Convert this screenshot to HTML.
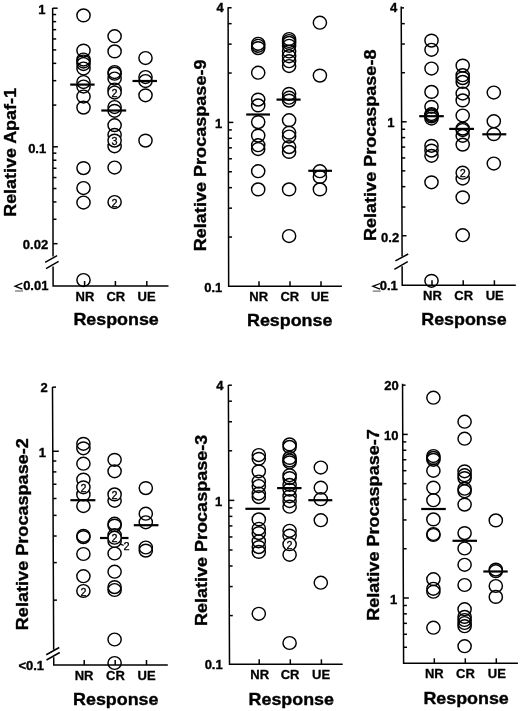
<!DOCTYPE html>
<html><head><meta charset="utf-8"><style>
html,body{margin:0;padding:0;background:#fff;}
body{width:520px;height:711px;overflow:hidden;}
svg{display:block;filter:grayscale(1);}
.ax line,.ax path{stroke:#000;stroke-width:1.5;fill:none;}
.ax .thin{stroke-width:1.3;}
.ax .ul{stroke-width:0.8;stroke:#222;}
.c ellipse{stroke:#000;stroke-width:1.45;fill:none;}
.c ellipse.w{fill:#fff;}
.m line{stroke:#000;stroke-width:2.2;}
text{font-family:"Liberation Sans",sans-serif;fill:#000;}
.tl{font-weight:bold;font-size:13px;stroke:#000;stroke-width:0.35;}
.xl{font-weight:bold;font-size:13px;text-anchor:middle;stroke:#000;stroke-width:0.3;}
.rs{font-weight:bold;font-size:16.3px;text-anchor:middle;stroke:#000;stroke-width:0.35;}
.yl{font-weight:bold;font-size:17.3px;text-anchor:middle;stroke:#000;stroke-width:0.35;}
.n{font-size:10.8px;text-anchor:middle;fill:#000;stroke:#000;stroke-width:0.3;}
.n2{font-size:11px;text-anchor:middle;fill:#000;stroke:#000;stroke-width:0.25;}
</style></head><body>
<svg width="520" height="711" viewBox="0 0 520 711">
<g class="ax">
<path d="M52.65 8.1L53.05 256.5M53.07 266.5L53.10 286.0L168.5 286.0"/>
<line x1="45.1" y1="262.4" x2="57.1" y2="255.7"/>
<line x1="46" y1="268.7" x2="58.6" y2="261.4"/>
<line x1="84.6" y1="286.0" x2="84.6" y2="281.0"/>
<line x1="115.4" y1="286.0" x2="115.4" y2="281.0"/>
<line x1="146.8" y1="286.0" x2="146.8" y2="281.0"/>
<line x1="52.65" y1="8.20" x2="57.65" y2="8.20"/>
<line x1="52.66" y1="14.54" x2="56.16" y2="14.54"/>
<line x1="52.67" y1="21.63" x2="56.17" y2="21.63"/>
<line x1="52.68" y1="29.67" x2="56.18" y2="29.67"/>
<line x1="52.70" y1="38.95" x2="56.20" y2="38.95"/>
<line x1="52.72" y1="49.92" x2="56.22" y2="49.92"/>
<line x1="52.74" y1="63.35" x2="56.24" y2="63.35"/>
<line x1="52.77" y1="80.67" x2="56.27" y2="80.67"/>
<line x1="52.81" y1="105.08" x2="56.31" y2="105.08"/>
<line x1="52.87" y1="146.80" x2="57.87" y2="146.80"/>
<line x1="52.88" y1="153.14" x2="56.38" y2="153.14"/>
<line x1="52.90" y1="160.23" x2="56.40" y2="160.23"/>
<line x1="52.91" y1="168.27" x2="56.41" y2="168.27"/>
<line x1="52.92" y1="177.55" x2="56.42" y2="177.55"/>
<line x1="52.94" y1="188.52" x2="56.44" y2="188.52"/>
<line x1="52.96" y1="201.95" x2="56.46" y2="201.95"/>
<line x1="52.99" y1="219.27" x2="56.49" y2="219.27"/>
<line x1="53.03" y1="243.68" x2="57.53" y2="243.68"/>
<path class="thin" d="M22.4 283.2L15 286.20L22.4 289.2"/>
<line class="ul" x1="15" y1="291" x2="23.0" y2="291"/>
<path d="M228.10 7.3L228.65 286.3L341.9 286.3"/>
<line x1="259" y1="286.3" x2="259" y2="281.3"/>
<line x1="290" y1="286.3" x2="290" y2="281.3"/>
<line x1="321" y1="286.3" x2="321" y2="281.3"/>
<line x1="228.10" y1="7.77" x2="231.60" y2="7.77"/>
<line x1="228.13" y1="23.66" x2="231.63" y2="23.66"/>
<line x1="228.17" y1="44.15" x2="231.67" y2="44.15"/>
<line x1="228.23" y1="73.03" x2="231.73" y2="73.03"/>
<line x1="228.33" y1="122.40" x2="233.33" y2="122.40"/>
<line x1="228.34" y1="129.90" x2="231.84" y2="129.90"/>
<line x1="228.36" y1="138.29" x2="231.86" y2="138.29"/>
<line x1="228.38" y1="147.80" x2="231.88" y2="147.80"/>
<line x1="228.40" y1="158.78" x2="231.90" y2="158.78"/>
<line x1="228.42" y1="171.77" x2="231.92" y2="171.77"/>
<line x1="228.46" y1="187.66" x2="231.96" y2="187.66"/>
<line x1="228.50" y1="208.15" x2="232.00" y2="208.15"/>
<line x1="228.55" y1="237.03" x2="232.05" y2="237.03"/>
<path d="M401.20 6.6L402.10 256.5M402.13 266.3L402.20 285.3L515.8 285.3"/>
<line x1="395.4" y1="260.9" x2="408.2" y2="254"/>
<line x1="394.4" y1="269.3" x2="407.7" y2="261.6"/>
<line x1="432" y1="285.3" x2="432" y2="280.3"/>
<line x1="463.2" y1="285.3" x2="463.2" y2="280.3"/>
<line x1="494.4" y1="285.3" x2="494.4" y2="280.3"/>
<line x1="401.20" y1="7.87" x2="404.00" y2="7.87"/>
<line x1="401.26" y1="23.66" x2="404.76" y2="23.66"/>
<line x1="401.33" y1="44.03" x2="404.83" y2="44.03"/>
<line x1="401.44" y1="72.73" x2="404.94" y2="72.73"/>
<line x1="401.61" y1="121.80" x2="406.61" y2="121.80"/>
<line x1="401.64" y1="129.26" x2="405.14" y2="129.26"/>
<line x1="401.67" y1="137.60" x2="405.17" y2="137.60"/>
<line x1="401.70" y1="147.05" x2="405.20" y2="147.05"/>
<line x1="401.74" y1="157.96" x2="405.24" y2="157.96"/>
<line x1="401.79" y1="170.87" x2="405.29" y2="170.87"/>
<line x1="401.85" y1="186.66" x2="405.35" y2="186.66"/>
<line x1="401.92" y1="207.03" x2="405.42" y2="207.03"/>
<line x1="402.02" y1="235.73" x2="406.52" y2="235.73"/>
<path class="thin" d="M380.1 283.5L372.8 286.35L380.1 289.2"/>
<line class="ul" x1="372.8" y1="291.1" x2="380.70000000000005" y2="291.1"/>
<path d="M52.50 386.9L53.68 649.75M53.72 657.25L53.75 665L167.8 665.0"/>
<line x1="46.25" y1="654.75" x2="59.25" y2="647.5"/>
<line x1="46.5" y1="660" x2="59.75" y2="652.5"/>
<line x1="84.2" y1="665" x2="84.2" y2="660"/>
<line x1="115.2" y1="665" x2="115.2" y2="660"/>
<line x1="146.5" y1="665" x2="146.5" y2="660"/>
<line x1="52.50" y1="387.13" x2="56.00" y2="387.13"/>
<line x1="52.79" y1="451.25" x2="58.79" y2="451.25"/>
<line x1="52.83" y1="461.00" x2="56.33" y2="461.00"/>
<line x1="52.88" y1="471.89" x2="56.38" y2="471.89"/>
<line x1="52.94" y1="484.24" x2="56.44" y2="484.24"/>
<line x1="53.00" y1="498.50" x2="56.50" y2="498.50"/>
<line x1="53.08" y1="515.37" x2="56.58" y2="515.37"/>
<line x1="53.17" y1="536.01" x2="56.67" y2="536.01"/>
<line x1="53.29" y1="562.62" x2="56.79" y2="562.62"/>
<line x1="53.46" y1="600.13" x2="56.96" y2="600.13"/>
<line class="thin" x1="120.0" y1="544.0" x2="123.6" y2="545.4"/>
<path d="M228.35 385.1L229.50 664.3L342.7 664.3"/>
<line x1="259.2" y1="664.3" x2="259.2" y2="659.3"/>
<line x1="290.3" y1="664.3" x2="290.3" y2="659.3"/>
<line x1="321.4" y1="664.3" x2="321.4" y2="659.3"/>
<line x1="228.35" y1="385.21" x2="231.85" y2="385.21"/>
<line x1="228.42" y1="401.18" x2="231.92" y2="401.18"/>
<line x1="228.50" y1="421.77" x2="232.00" y2="421.77"/>
<line x1="228.62" y1="450.79" x2="232.12" y2="450.79"/>
<line x1="228.82" y1="500.40" x2="234.32" y2="500.40"/>
<line x1="228.86" y1="507.94" x2="232.36" y2="507.94"/>
<line x1="228.89" y1="516.37" x2="232.39" y2="516.37"/>
<line x1="228.93" y1="525.93" x2="232.43" y2="525.93"/>
<line x1="228.98" y1="536.96" x2="232.48" y2="536.96"/>
<line x1="229.03" y1="550.01" x2="232.53" y2="550.01"/>
<line x1="229.10" y1="565.98" x2="232.60" y2="565.98"/>
<line x1="229.18" y1="586.57" x2="232.68" y2="586.57"/>
<line x1="229.30" y1="615.59" x2="232.80" y2="615.59"/>
<path d="M402.55 383.75L403.60 663.3L517.9 663.3"/>
<line x1="434.3" y1="663.3" x2="434.3" y2="658.3"/>
<line x1="465.3" y1="663.3" x2="465.3" y2="658.3"/>
<line x1="496.3" y1="663.3" x2="496.3" y2="658.3"/>
<line x1="402.56" y1="385.15" x2="405.56" y2="385.15"/>
<line x1="402.74" y1="434.40" x2="407.74" y2="434.40"/>
<line x1="402.77" y1="441.89" x2="406.27" y2="441.89"/>
<line x1="402.80" y1="450.25" x2="406.30" y2="450.25"/>
<line x1="402.84" y1="459.74" x2="406.34" y2="459.74"/>
<line x1="402.88" y1="470.69" x2="406.38" y2="470.69"/>
<line x1="402.93" y1="483.65" x2="406.43" y2="483.65"/>
<line x1="402.98" y1="499.50" x2="406.48" y2="499.50"/>
<line x1="403.06" y1="519.94" x2="406.56" y2="519.94"/>
<line x1="403.17" y1="548.75" x2="406.67" y2="548.75"/>
<line x1="403.35" y1="598.00" x2="408.85" y2="598.00"/>
<line x1="403.38" y1="605.49" x2="406.88" y2="605.49"/>
<line x1="403.41" y1="613.85" x2="406.91" y2="613.85"/>
<line x1="403.45" y1="623.34" x2="406.95" y2="623.34"/>
<line x1="403.49" y1="634.29" x2="406.99" y2="634.29"/>
<line x1="403.54" y1="647.25" x2="407.04" y2="647.25"/>
</g>
<g class="c">
<ellipse cx="83.5" cy="15.4" rx="6.6" ry="6.4"/>
<ellipse cx="83.5" cy="50.6" rx="6.6" ry="6.4"/>
<ellipse cx="83.5" cy="59.5" rx="6.6" ry="6.4"/>
<ellipse cx="83.5" cy="61.5" rx="6.6" ry="6.4"/>
<ellipse cx="83.5" cy="64" rx="6.6" ry="6.4"/>
<ellipse cx="83.5" cy="68.5" rx="6.6" ry="6.4"/>
<ellipse cx="83.5" cy="82" rx="6.6" ry="6.4"/>
<ellipse cx="83.5" cy="86.5" rx="6.6" ry="6.4"/>
<ellipse cx="83.5" cy="96.5" rx="6.6" ry="6.4"/>
<ellipse cx="83.5" cy="107.6" rx="6.6" ry="6.4"/>
<ellipse cx="83.5" cy="168.1" rx="6.6" ry="6.4"/>
<ellipse cx="83.5" cy="188" rx="6.6" ry="6.4"/>
<ellipse cx="83.5" cy="202.5" rx="6.6" ry="6.4"/>
<ellipse cx="83.5" cy="280" rx="6.6" ry="6.4"/>
<ellipse cx="114.6" cy="36.2" rx="6.6" ry="6.4"/>
<ellipse cx="114.6" cy="51.4" rx="6.6" ry="6.4"/>
<ellipse cx="114.6" cy="72" rx="6.6" ry="6.4"/>
<ellipse cx="114.6" cy="73.7" rx="6.6" ry="6.4"/>
<ellipse cx="114.6" cy="78.5" rx="6.6" ry="6.4"/>
<ellipse cx="114.6" cy="89.5" rx="6.6" ry="6.4"/>
<ellipse cx="114.6" cy="107" rx="6.6" ry="6.4"/>
<ellipse cx="114.6" cy="110.8" rx="6.6" ry="6.4"/>
<ellipse cx="114.6" cy="125.2" rx="6.6" ry="6.4"/>
<ellipse cx="114.6" cy="134.8" rx="6.6" ry="6.4"/>
<ellipse cx="114.6" cy="146.3" rx="6.6" ry="6.4"/>
<ellipse cx="114.6" cy="167.5" rx="6.6" ry="6.4"/>
<ellipse cx="145.5" cy="58" rx="6.6" ry="6.4"/>
<ellipse cx="145.5" cy="77" rx="6.6" ry="6.4"/>
<ellipse cx="145.5" cy="81" rx="6.6" ry="6.4"/>
<ellipse cx="145.5" cy="95.3" rx="6.6" ry="6.4"/>
<ellipse cx="145.5" cy="140.6" rx="6.6" ry="6.4"/>
<ellipse cx="258.2" cy="43.8" rx="6.6" ry="6.4"/>
<ellipse cx="258.2" cy="45.8" rx="6.6" ry="6.4"/>
<ellipse cx="258.2" cy="48.1" rx="6.6" ry="6.4"/>
<ellipse cx="258.2" cy="72.7" rx="6.6" ry="6.4"/>
<ellipse cx="258.2" cy="99.6" rx="6.6" ry="6.4"/>
<ellipse cx="258.2" cy="105.4" rx="6.6" ry="6.4"/>
<ellipse cx="258.2" cy="122.1" rx="6.6" ry="6.4"/>
<ellipse cx="258.2" cy="135.6" rx="6.6" ry="6.4"/>
<ellipse cx="258.2" cy="145.2" rx="6.6" ry="6.4"/>
<ellipse cx="258.2" cy="149" rx="6.6" ry="6.4"/>
<ellipse cx="258.2" cy="171.2" rx="6.6" ry="6.4"/>
<ellipse cx="258.2" cy="189.4" rx="6.6" ry="6.4"/>
<ellipse cx="289.1" cy="39" rx="6.6" ry="6.4"/>
<ellipse cx="289.1" cy="41" rx="6.6" ry="6.4"/>
<ellipse cx="289.1" cy="42.9" rx="6.6" ry="6.4"/>
<ellipse cx="289.1" cy="45.8" rx="6.6" ry="6.4"/>
<ellipse cx="289.1" cy="51.5" rx="6.6" ry="6.4"/>
<ellipse cx="289.1" cy="56.3" rx="6.6" ry="6.4"/>
<ellipse cx="289.1" cy="61.2" rx="6.6" ry="6.4"/>
<ellipse cx="289.1" cy="66" rx="6.6" ry="6.4"/>
<ellipse cx="289.1" cy="93.8" rx="6.6" ry="6.4"/>
<ellipse cx="289.1" cy="97.7" rx="6.6" ry="6.4"/>
<ellipse cx="289.1" cy="100.6" rx="6.6" ry="6.4"/>
<ellipse cx="289.1" cy="120.2" rx="6.6" ry="6.4"/>
<ellipse cx="289.1" cy="132.7" rx="6.6" ry="6.4"/>
<ellipse cx="289.1" cy="136.5" rx="6.6" ry="6.4"/>
<ellipse cx="289.1" cy="147.1" rx="6.6" ry="6.4"/>
<ellipse cx="289.1" cy="151.9" rx="6.6" ry="6.4"/>
<ellipse cx="289.1" cy="189.4" rx="6.6" ry="6.4"/>
<ellipse cx="289.1" cy="236" rx="6.6" ry="6.4"/>
<ellipse cx="319.9" cy="22.7" rx="6.6" ry="6.4"/>
<ellipse cx="319.9" cy="75.6" rx="6.6" ry="6.4"/>
<ellipse cx="319.9" cy="171.2" rx="6.6" ry="6.4"/>
<ellipse cx="319.9" cy="176.9" rx="6.6" ry="6.4"/>
<ellipse cx="319.9" cy="189.4" rx="6.6" ry="6.4"/>
<ellipse cx="431.5" cy="40.6" rx="6.6" ry="6.4"/>
<ellipse cx="431.5" cy="49.8" rx="6.6" ry="6.4"/>
<ellipse cx="431.5" cy="68.5" rx="6.6" ry="6.4"/>
<ellipse cx="431.5" cy="91.9" rx="6.6" ry="6.4"/>
<ellipse cx="431.5" cy="106.8" rx="6.6" ry="6.4"/>
<ellipse cx="431.5" cy="114" rx="6.6" ry="6.4"/>
<ellipse cx="431.5" cy="115.2" rx="6.6" ry="6.4"/>
<ellipse cx="431.5" cy="116.4" rx="6.6" ry="6.4"/>
<ellipse cx="431.5" cy="118.5" rx="6.6" ry="6.4"/>
<ellipse cx="431.5" cy="145.8" rx="6.6" ry="6.4"/>
<ellipse cx="431.5" cy="150.6" rx="6.6" ry="6.4"/>
<ellipse cx="431.5" cy="155.8" rx="6.6" ry="6.4"/>
<ellipse cx="431.5" cy="182.3" rx="6.6" ry="6.4"/>
<ellipse cx="431.5" cy="280.8" rx="6.6" ry="6.4"/>
<ellipse cx="462.7" cy="65.6" rx="6.6" ry="6.4"/>
<ellipse cx="462.7" cy="75.2" rx="6.6" ry="6.4"/>
<ellipse cx="462.7" cy="78.1" rx="6.6" ry="6.4"/>
<ellipse cx="462.7" cy="81.9" rx="6.6" ry="6.4"/>
<ellipse cx="462.7" cy="93.5" rx="6.6" ry="6.4"/>
<ellipse cx="462.7" cy="100.4" rx="6.6" ry="6.4"/>
<ellipse cx="462.7" cy="115.5" rx="6.6" ry="6.4"/>
<ellipse cx="462.7" cy="128.6" rx="6.6" ry="6.4"/>
<ellipse cx="462.7" cy="130" rx="6.6" ry="6.4"/>
<ellipse cx="462.7" cy="135.8" rx="6.6" ry="6.4"/>
<ellipse cx="462.7" cy="144.6" rx="6.6" ry="6.4"/>
<ellipse cx="462.7" cy="178.5" rx="6.6" ry="6.4"/>
<ellipse cx="462.7" cy="197.3" rx="6.6" ry="6.4"/>
<ellipse cx="462.7" cy="235.2" rx="6.6" ry="6.4"/>
<ellipse cx="493.8" cy="92.5" rx="6.6" ry="6.4"/>
<ellipse cx="493.8" cy="121.2" rx="6.6" ry="6.4"/>
<ellipse cx="493.8" cy="134.2" rx="6.6" ry="6.4"/>
<ellipse cx="493.8" cy="163.5" rx="6.6" ry="6.4"/>
<ellipse cx="83.4" cy="443.8" rx="6.6" ry="6.4"/>
<ellipse cx="83.4" cy="448.3" rx="6.6" ry="6.4"/>
<ellipse cx="83.4" cy="463.7" rx="6.6" ry="6.4"/>
<ellipse cx="83.4" cy="479.6" rx="6.6" ry="6.4"/>
<ellipse cx="83.4" cy="494.4" rx="6.6" ry="6.4"/>
<ellipse cx="83.4" cy="506" rx="6.6" ry="6.4"/>
<ellipse cx="83.4" cy="535.8" rx="6.6" ry="6.4"/>
<ellipse cx="83.4" cy="537.1" rx="6.6" ry="6.4"/>
<ellipse cx="83.4" cy="554" rx="6.6" ry="6.4"/>
<ellipse cx="83.4" cy="576.2" rx="6.6" ry="6.4"/>
<ellipse cx="114.6" cy="459.8" rx="6.6" ry="6.4"/>
<ellipse cx="114.6" cy="471.3" rx="6.6" ry="6.4"/>
<ellipse cx="114.6" cy="500.8" rx="6.6" ry="6.4"/>
<ellipse cx="114.6" cy="523.7" rx="6.6" ry="6.4"/>
<ellipse cx="114.6" cy="525.6" rx="6.6" ry="6.4"/>
<ellipse cx="114.6" cy="535.2" rx="6.6" ry="6.4"/>
<ellipse cx="114.6" cy="541" rx="6.6" ry="6.4"/>
<ellipse cx="114.6" cy="553.5" rx="6.6" ry="6.4"/>
<ellipse cx="114.6" cy="571.7" rx="6.6" ry="6.4"/>
<ellipse cx="114.6" cy="587.1" rx="6.6" ry="6.4"/>
<ellipse cx="114.6" cy="590" rx="6.6" ry="6.4"/>
<ellipse cx="114.6" cy="639.5" rx="6.6" ry="6.4"/>
<ellipse cx="114.6" cy="663" rx="6.6" ry="6.4"/>
<ellipse cx="145.8" cy="488.1" rx="6.6" ry="6.4"/>
<ellipse cx="145.8" cy="513.7" rx="6.6" ry="6.4"/>
<ellipse cx="145.8" cy="522.3" rx="6.6" ry="6.4"/>
<ellipse cx="145.8" cy="547.5" rx="6.6" ry="6.4"/>
<ellipse cx="145.8" cy="550.6" rx="6.6" ry="6.4"/>
<ellipse cx="258.8" cy="455" rx="6.6" ry="6.4"/>
<ellipse cx="258.8" cy="458.8" rx="6.6" ry="6.4"/>
<ellipse cx="258.8" cy="471.3" rx="6.6" ry="6.4"/>
<ellipse cx="258.8" cy="481.5" rx="6.6" ry="6.4"/>
<ellipse cx="258.8" cy="486" rx="6.6" ry="6.4"/>
<ellipse cx="258.8" cy="493.5" rx="6.6" ry="6.4"/>
<ellipse cx="258.8" cy="497" rx="6.6" ry="6.4"/>
<ellipse cx="258.8" cy="519.4" rx="6.6" ry="6.4"/>
<ellipse cx="258.8" cy="528.8" rx="6.6" ry="6.4"/>
<ellipse cx="258.8" cy="533.1" rx="6.6" ry="6.4"/>
<ellipse cx="258.8" cy="541.3" rx="6.6" ry="6.4"/>
<ellipse cx="258.8" cy="547.1" rx="6.6" ry="6.4"/>
<ellipse cx="258.8" cy="551.9" rx="6.6" ry="6.4"/>
<ellipse cx="258.8" cy="613.8" rx="6.6" ry="6.4"/>
<ellipse cx="289.6" cy="444.4" rx="6.6" ry="6.4"/>
<ellipse cx="289.6" cy="446.9" rx="6.6" ry="6.4"/>
<ellipse cx="289.6" cy="457.9" rx="6.6" ry="6.4"/>
<ellipse cx="289.6" cy="460.4" rx="6.6" ry="6.4"/>
<ellipse cx="289.6" cy="462.3" rx="6.6" ry="6.4"/>
<ellipse cx="289.6" cy="475.2" rx="6.6" ry="6.4"/>
<ellipse cx="289.6" cy="478.1" rx="6.6" ry="6.4"/>
<ellipse cx="289.6" cy="484.8" rx="6.6" ry="6.4"/>
<ellipse cx="289.6" cy="489.6" rx="6.6" ry="6.4"/>
<ellipse cx="289.6" cy="496.3" rx="6.6" ry="6.4"/>
<ellipse cx="289.6" cy="501" rx="6.6" ry="6.4"/>
<ellipse cx="289.6" cy="506.7" rx="6.6" ry="6.4"/>
<ellipse cx="289.6" cy="530.8" rx="6.6" ry="6.4"/>
<ellipse cx="289.6" cy="535.6" rx="6.6" ry="6.4"/>
<ellipse cx="289.6" cy="554.8" rx="6.6" ry="6.4"/>
<ellipse cx="289.6" cy="643" rx="6.6" ry="6.4"/>
<ellipse cx="320.8" cy="467.5" rx="6.6" ry="6.4"/>
<ellipse cx="320.8" cy="487.7" rx="6.6" ry="6.4"/>
<ellipse cx="320.8" cy="499.2" rx="6.6" ry="6.4"/>
<ellipse cx="320.8" cy="520.2" rx="6.6" ry="6.4"/>
<ellipse cx="320.8" cy="582.7" rx="6.6" ry="6.4"/>
<ellipse cx="433.4" cy="397.7" rx="6.6" ry="6.4"/>
<ellipse cx="433.4" cy="456" rx="6.6" ry="6.4"/>
<ellipse cx="433.4" cy="457.9" rx="6.6" ry="6.4"/>
<ellipse cx="433.4" cy="459.8" rx="6.6" ry="6.4"/>
<ellipse cx="433.4" cy="470.8" rx="6.6" ry="6.4"/>
<ellipse cx="433.4" cy="487.7" rx="6.6" ry="6.4"/>
<ellipse cx="433.4" cy="500.2" rx="6.6" ry="6.4"/>
<ellipse cx="433.4" cy="519.4" rx="6.6" ry="6.4"/>
<ellipse cx="433.4" cy="534" rx="6.6" ry="6.4"/>
<ellipse cx="433.4" cy="535" rx="6.6" ry="6.4"/>
<ellipse cx="433.4" cy="579.2" rx="6.6" ry="6.4"/>
<ellipse cx="433.4" cy="588.8" rx="6.6" ry="6.4"/>
<ellipse cx="433.4" cy="591.7" rx="6.6" ry="6.4"/>
<ellipse cx="433.4" cy="627.7" rx="6.6" ry="6.4"/>
<ellipse cx="464.6" cy="421.7" rx="6.6" ry="6.4"/>
<ellipse cx="464.6" cy="438.7" rx="6.6" ry="6.4"/>
<ellipse cx="464.6" cy="471.3" rx="6.6" ry="6.4"/>
<ellipse cx="464.6" cy="475.2" rx="6.6" ry="6.4"/>
<ellipse cx="464.6" cy="478.1" rx="6.6" ry="6.4"/>
<ellipse cx="464.6" cy="488.7" rx="6.6" ry="6.4"/>
<ellipse cx="464.6" cy="491.2" rx="6.6" ry="6.4"/>
<ellipse cx="464.6" cy="504.6" rx="6.6" ry="6.4"/>
<ellipse cx="464.6" cy="533.1" rx="6.6" ry="6.4"/>
<ellipse cx="464.6" cy="548.5" rx="6.6" ry="6.4"/>
<ellipse cx="464.6" cy="564.8" rx="6.6" ry="6.4"/>
<ellipse cx="464.6" cy="585" rx="6.6" ry="6.4"/>
<ellipse cx="464.6" cy="609.2" rx="6.6" ry="6.4"/>
<ellipse cx="464.6" cy="616.9" rx="6.6" ry="6.4"/>
<ellipse cx="464.6" cy="620" rx="6.6" ry="6.4"/>
<ellipse cx="464.6" cy="623" rx="6.6" ry="6.4"/>
<ellipse cx="464.6" cy="626.2" rx="6.6" ry="6.4"/>
<ellipse cx="464.6" cy="646.2" rx="6.6" ry="6.4"/>
<ellipse cx="495.8" cy="520.4" rx="6.6" ry="6.4"/>
<ellipse cx="495.8" cy="569.6" rx="6.6" ry="6.4"/>
<ellipse cx="495.8" cy="571.2" rx="6.6" ry="6.4"/>
<ellipse cx="495.8" cy="586" rx="6.6" ry="6.4"/>
<ellipse cx="495.8" cy="596.9" rx="6.6" ry="6.4"/>
</g>
<g class="m">
<line x1="70.2" y1="84.6" x2="94.6" y2="84.6"/>
<line x1="101.3" y1="110.5" x2="126.2" y2="110.5"/>
<line x1="132.5" y1="81" x2="157" y2="81"/>
<line x1="246.2" y1="114.5" x2="270" y2="114.5"/>
<line x1="276.5" y1="99.6" x2="300.6" y2="99.6"/>
<line x1="308.3" y1="170.8" x2="332" y2="170.8"/>
<line x1="419.2" y1="116.2" x2="443.8" y2="116.2"/>
<line x1="449.2" y1="128.9" x2="474" y2="128.9"/>
<line x1="482.3" y1="134.3" x2="506.3" y2="134.3"/>
<line x1="70.4" y1="500.2" x2="95.4" y2="500.2"/>
<line x1="100" y1="538" x2="128.5" y2="538"/>
<line x1="133.8" y1="525.2" x2="158.5" y2="525.2"/>
<line x1="245.4" y1="508.8" x2="269.8" y2="508.8"/>
<line x1="277.1" y1="488.1" x2="301.5" y2="488.1"/>
<line x1="308.3" y1="500.2" x2="332.3" y2="500.2"/>
<line x1="421.2" y1="509" x2="445.8" y2="509"/>
<line x1="452.5" y1="540.8" x2="477" y2="540.8"/>
<line x1="483.3" y1="571.5" x2="507.7" y2="571.5"/>
</g>
<g class="c">
<ellipse cx="114.6" cy="92.5" rx="6.6" ry="6.4" class="w"/>
<text x="114.6" y="97.10" class="n">2</text>
<ellipse cx="114.6" cy="140.6" rx="6.6" ry="6.4" class="w"/>
<text x="114.6" y="145.20" class="n">3</text>
<ellipse cx="114.6" cy="202" rx="6.6" ry="6.4" class="w"/>
<text x="114.6" y="206.60" class="n">2</text>
<ellipse cx="462.7" cy="172.7" rx="6.6" ry="6.4" class="w"/>
<text x="462.7" y="177.30" class="n">2</text>
<ellipse cx="83.4" cy="487.3" rx="6.6" ry="6.4" class="w"/>
<text x="83.4" y="491.90" class="n">2</text>
<ellipse cx="83.4" cy="591" rx="6.6" ry="6.4" class="w"/>
<text x="83.4" y="595.60" class="n">2</text>
<ellipse cx="114.6" cy="494.4" rx="6.6" ry="6.4" class="w"/>
<text x="114.6" y="499.00" class="n">2</text>
<ellipse cx="114.6" cy="537.7" rx="6.6" ry="6.4" class="w"/>
<text x="114.6" y="542.30" class="n">2</text>
<ellipse cx="289.6" cy="544.2" rx="6.6" ry="6.4" class="w"/>
<text x="289.6" y="548.80" class="n">2</text>
</g>
<text x="38.15" y="13.70" class="tl">1</text>
<text x="28.15" y="153.30" class="tl">0.1</text>
<text x="22.85" y="249.10" class="tl">0.02</text>
<text x="23.15" y="289.50" class="tl">0.01</text>
<text x="85.00" y="300.60" class="xl">NR</text>
<text x="115.80" y="300.60" class="xl">CR</text>
<text x="146.60" y="300.60" class="xl">UE</text>
<text x="116.10" y="325.30" class="rs" textLength="85.4" lengthAdjust="spacingAndGlyphs">Response</text>
<text transform="translate(15.8,152.45) rotate(-90)" class="yl" textLength="128.6" lengthAdjust="spacingAndGlyphs">Relative Apaf-1</text>
<text x="216.45" y="12.30" class="tl">4</text>
<text x="214.95" y="127.50" class="tl">1</text>
<text x="204.25" y="291.90" class="tl">0.1</text>
<text x="258.70" y="301.20" class="xl">NR</text>
<text x="289.80" y="301.20" class="xl">CR</text>
<text x="319.95" y="301.20" class="xl">UE</text>
<text x="289.70" y="325.95" class="rs" textLength="85.4" lengthAdjust="spacingAndGlyphs">Response</text>
<text transform="translate(205.9,155.4) rotate(-90)" class="yl" textLength="191.8" lengthAdjust="spacingAndGlyphs">Relative Procaspase-9</text>
<text x="390.05" y="11.55" class="tl">4</text>
<text x="387.15" y="127.35" class="tl">1</text>
<text x="381.05" y="241.55" class="tl">0.2</text>
<text x="379.75" y="289.50" class="tl">0.1</text>
<text x="432.45" y="299.90" class="xl">NR</text>
<text x="463.75" y="299.90" class="xl">CR</text>
<text x="494.70" y="299.90" class="xl">UE</text>
<text x="463.95" y="325.30" class="rs" textLength="85.4" lengthAdjust="spacingAndGlyphs">Response</text>
<text transform="translate(376.2,145.3) rotate(-90)" class="yl" textLength="191.4" lengthAdjust="spacingAndGlyphs">Relative Procaspase-8</text>
<text x="40.55" y="391.55" class="tl">2</text>
<text x="38.65" y="456.75" class="tl">1</text>
<text x="18.45" y="670.15" class="tl"><0.1</text>
<text x="84.10" y="679.70" class="xl">NR</text>
<text x="115.45" y="679.70" class="xl">CR</text>
<text x="146.55" y="679.70" class="xl">UE</text>
<text x="115.80" y="704.50" class="rs" textLength="85.4" lengthAdjust="spacingAndGlyphs">Response</text>
<text transform="translate(28.4,534.15) rotate(-90)" class="yl" textLength="192.1" lengthAdjust="spacingAndGlyphs">Relative Procaspase-2</text>
<text x="126.6" y="550.30" class="n2">2</text>
<text x="216.25" y="390.10" class="tl">4</text>
<text x="214.95" y="505.95" class="tl">1</text>
<text x="204.65" y="669.30" class="tl">0.1</text>
<text x="259.70" y="679.20" class="xl">NR</text>
<text x="290.10" y="679.20" class="xl">CR</text>
<text x="321.10" y="679.20" class="xl">UE</text>
<text x="291.30" y="704.70" class="rs" textLength="85.4" lengthAdjust="spacingAndGlyphs">Response</text>
<text transform="translate(207.2,530.4) rotate(-90)" class="yl" textLength="191.2" lengthAdjust="spacingAndGlyphs">Relative Procaspase-3</text>
<text x="384.25" y="390.45" class="tl">20</text>
<text x="383.95" y="439.90" class="tl">10</text>
<text x="389.95" y="603.60" class="tl">1</text>
<text x="434.35" y="678.00" class="xl">NR</text>
<text x="465.45" y="678.00" class="xl">CR</text>
<text x="496.85" y="678.00" class="xl">UE</text>
<text x="466.10" y="703.70" class="rs" textLength="85.4" lengthAdjust="spacingAndGlyphs">Response</text>
<text transform="translate(379.05,525) rotate(-90)" class="yl" textLength="191.6" lengthAdjust="spacingAndGlyphs">Relative Procaspase-7</text>
</svg>
</body></html>
